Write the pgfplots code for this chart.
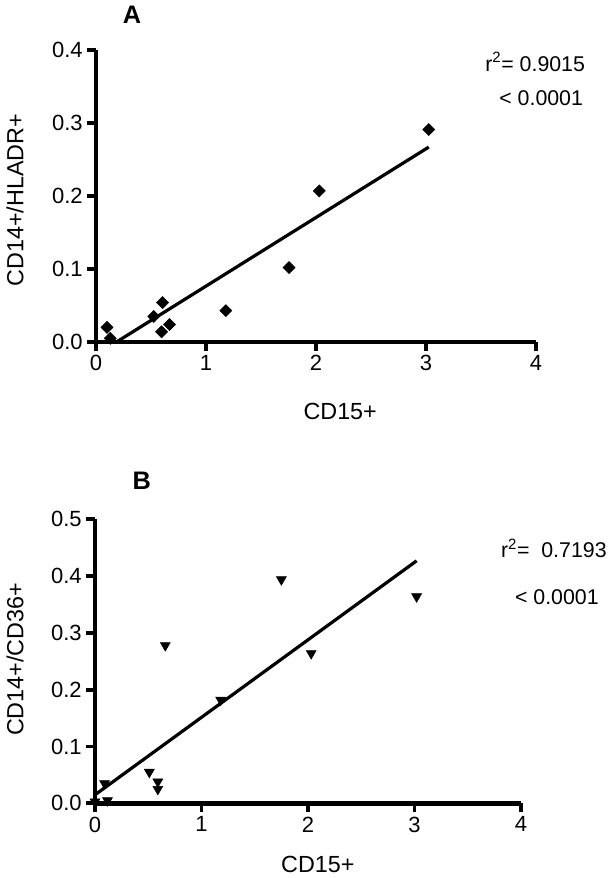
\documentclass[border=0pt]{standalone}
\usepackage{fontspec}
\setmainfont{Liberation Sans}
\usepackage{pgfplots}
\pgfplotsset{compat=1.18}
\begin{document}
\begin{tikzpicture}
\useasboundingbox (0,0) rectangle (459.75pt,-658.5pt);
\pgfplotsset{
  panel/.style={
    scale only axis, anchor=south west, clip=false,
    xmin=0, xmax=4, ymin=0, xtick={0,1,2,3,4},
    axis lines=left,
    x axis line style={-, line width=3.4pt},
    y axis line style={-, line width=3.4pt},
    tick align=outside, major tick length=6.5pt,
    tick style={black, line width=2.8pt},
    /pgf/number format/assume math mode=true,
    tick label style={font=\fontsize{16.5}{18}\selectfont},
    yticklabel style={/pgf/number format/.cd, fixed, fixed zerofill, precision=1},
    label style={font=\fontsize{17.5}{20}\selectfont},
    xlabel={CD15+},
  },
}
% Panel A
\begin{axis}[panel, at={(72pt,-256.5pt)}, width=330pt, height=219pt,
  ymax=0.4, ytick={0,0.1,0.2,0.3,0.4},
  ylabel={CD14+/HLADR+},
  xlabel style={at={(axis description cs:0.555,0)}, anchor=center, yshift=-52pt},
  ylabel style={at={(axis description cs:-0.184,0.486)}, anchor=center, rotate=0},
]
\addplot[only marks, mark=square*, mark size=3.2pt, mark options={rotate=45, fill=black, draw=black}] coordinates {
  (0.10,0.020) (0.13,0.005) (0.525,0.035) (0.605,0.054) (0.596,0.014)
  (0.668,0.024) (1.18,0.043) (1.755,0.102) (2.03,0.207) (3.025,0.291)
};
\addplot[black, line width=2.4pt] coordinates {(0.186,0) (3.025,0.267)};
\node[font=\bfseries\fontsize{19}{20}\selectfont] at (axis description cs:0.082,1.12) {A};
\node[anchor=west, font=\fontsize{16}{18}\selectfont] at (axis description cs:0.874,0.959) {r\textsuperscript{2}= 0.9015};
\node[anchor=west, font=\fontsize{16}{18}\selectfont] at (axis description cs:0.906,0.836) {< 0.0001};
\end{axis}
% Panel B
\begin{axis}[panel, at={(71.25pt,-602.5pt)}, width=319.5pt, height=213pt,
  ymax=0.5, ytick={0,0.1,0.2,0.3,0.4,0.5},
  ylabel={CD14+/CD36+},
  xlabel style={at={(axis description cs:0.523,0)}, anchor=center, yshift=-46pt},
  ylabel style={at={(axis description cs:-0.188,0.507)}, anchor=center, rotate=0},
]
\addplot[only marks, mark=triangle*, mark size=4.3pt, mark options={rotate=180, fill=black, draw=black}] coordinates {
  (0.0,0.003) (0.117,0.005) (0.09,0.035) (0.51,0.055) (0.59,0.038)
  (0.59,0.025) (0.66,0.278) (1.18,0.182) (1.75,0.394) (2.03,0.264) (3.02,0.364)
};
\addplot[black, line width=2.4pt] coordinates {(0,0.015) (3.02,0.427)};
\node[font=\bfseries\fontsize{19}{20}\selectfont] at (axis description cs:0.110,1.137) {B};
\node[anchor=west, font=\fontsize{16}{18}\selectfont] at (axis description cs:0.942,0.898) {r\textsuperscript{2}=\ \ 0.7193};
\node[anchor=west, font=\fontsize{16}{18}\selectfont] at (axis description cs:0.975,0.725) {< 0.0001};
\end{axis}
\end{tikzpicture}
\end{document}
